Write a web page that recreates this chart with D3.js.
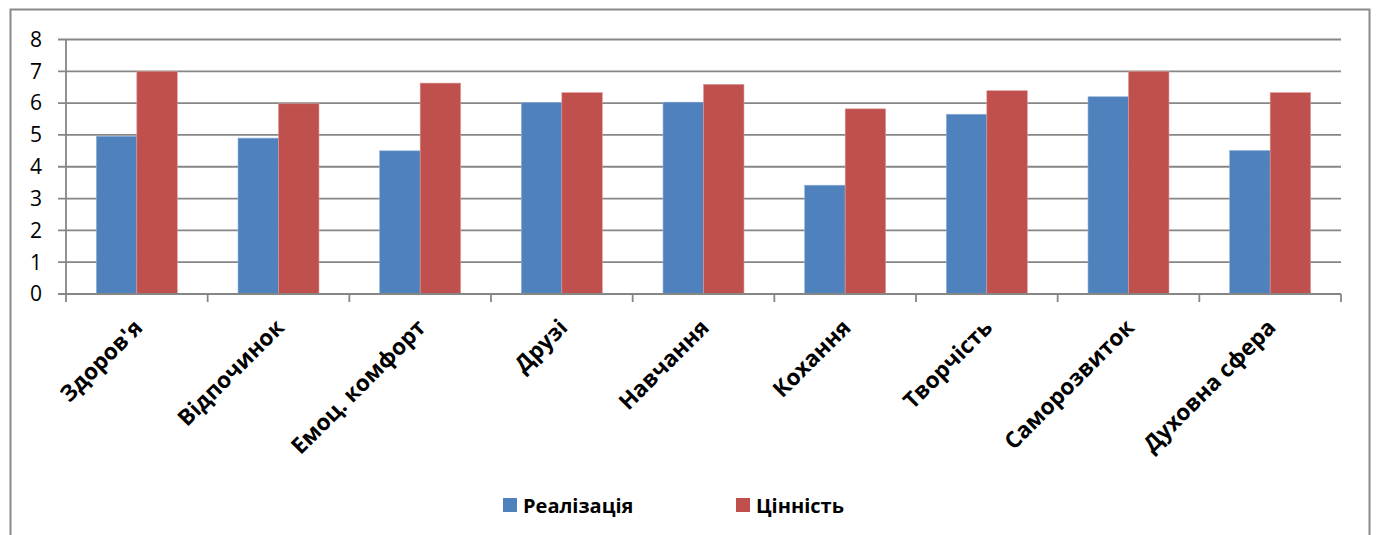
<!DOCTYPE html>
<html>
<head>
<meta charset="utf-8">
<script src="https://cdn.jsdelivr.net/npm/d3@7"></script>
<style>
  html, body { margin: 0; padding: 0; background: #fff; }
  svg { display: block; }
  text { font-family: "Open Sans", "Noto Sans", sans-serif; fill: #000; }
</style>
</head>
<body>
<svg id="chart" width="1376" height="535"></svg>
<script>
// Life spheres: how well each is realised vs. how much it is valued
const categories = ["Здоров'я", "Відпочинок", "Емоц. комфорт", "Друзі", "Навчання", "Кохання", "Творчість", "Саморозвиток", "Духовна сфера"];
const seriesNames = ["Реалізація", "Цінність"];
const realisation = [4.96, 4.9, 4.5, 6.02, 6.03, 3.42, 5.65, 6.2, 4.51];
const value = [7.0, 5.98, 6.63, 6.33, 6.59, 5.82, 6.39, 7.0, 6.33];
const yTicks = [0, 1, 2, 3, 4, 5, 6, 7, 8];
const colors = ["#4F81BD", "#C0504D"];

const svg = d3.select("#chart");
const gridColor = "#868686";

// outer chart frame
svg.append("rect")
  .attr("x", 10.5).attr("y", 9.5)
  .attr("width", 1359).attr("height", 545)
  .attr("fill", "#fff").attr("stroke", "#8a8a8a").attr("stroke-width", 2);

const plot = { left: 66, right: 1341, top: 39.5, bottom: 294 };

const x0 = d3.scaleBand().domain(categories).range([plot.left, plot.right]).padding(0);
const x1 = d3.scaleBand().domain(seriesNames).range([0, x0.bandwidth()])
  .paddingInner(0).paddingOuter(0.75);
const y = d3.scaleLinear().domain([0, 8]).range([plot.bottom, plot.top]);

// horizontal gridlines + left tick marks
svg.append("g").selectAll("line").data(yTicks).join("line")
  .attr("x1", plot.left - 8).attr("x2", plot.right)
  .attr("y1", d => y(d)).attr("y2", d => y(d))
  .attr("stroke", gridColor).attr("stroke-width", 1.8);

// y axis line
svg.append("line")
  .attr("x1", plot.left).attr("x2", plot.left)
  .attr("y1", plot.top).attr("y2", plot.bottom)
  .attr("stroke", gridColor).attr("stroke-width", 1.8);

// y tick labels
svg.append("g").selectAll("text").data(yTicks).join("text")
  .attr("x", 42).attr("y", d => y(d))
  .attr("dy", "0.35em")
  .attr("text-anchor", "end")
  .style("font-size", "21px")
  .text(d => d);

// bars
const rows = categories.map((c, i) => ({ cat: c, vals: [realisation[i], value[i]] }));
const groups = svg.append("g").selectAll("g").data(rows).join("g")
  .attr("transform", d => `translate(${x0(d.cat)},0)`);
groups.selectAll("rect")
  .data(d => d.vals.map((v, k) => ({ key: seriesNames[k], v, k })))
  .join("rect")
  .attr("x", d => x1(d.key))
  .attr("width", x1.bandwidth())
  .attr("y", d => y(d.v))
  .attr("height", d => y(0) - y(d.v))
  .attr("fill", d => colors[d.k])
  .attr("stroke", d => d.k === 0 ? "#8fb0d8" : "#dc9a98")
  .attr("stroke-width", 0.6);

// x axis line and category boundary ticks
svg.append("line")
  .attr("x1", plot.left).attr("x2", plot.right)
  .attr("y1", plot.bottom).attr("y2", plot.bottom)
  .attr("stroke", gridColor).attr("stroke-width", 1.8);
const boundaries = categories.map(c => x0(c)).concat([plot.right]);
svg.append("g").selectAll("line").data(boundaries).join("line")
  .attr("x1", d => d).attr("x2", d => d)
  .attr("y1", plot.bottom).attr("y2", plot.bottom + 8)
  .attr("stroke", gridColor).attr("stroke-width", 1.8);

// rotated category labels
svg.append("g").selectAll("text").data(categories).join("text")
  .attr("transform", d => `translate(${x0(d) + x0.bandwidth() / 2 + 7},${plot.bottom + 35}) rotate(-45)`)
  .attr("text-anchor", "end")
  .style("font-size", "22.5px")
  .style("font-weight", "bold")
  .text(d => d);

// legend
const legendX = [503, 736];
const legend = svg.append("g").selectAll("g").data(seriesNames).join("g")
  .attr("transform", (d, i) => `translate(${legendX[i]},0)`);
legend.append("rect")
  .attr("x", 0).attr("y", 498).attr("width", 14).attr("height", 14)
  .attr("fill", (d, i) => colors[i]);
legend.append("text")
  .attr("x", 20).attr("y", 513)
  .style("font-size", "20px")
  .style("font-weight", "bold")
  .text(d => d);
</script>
</body>
</html>
